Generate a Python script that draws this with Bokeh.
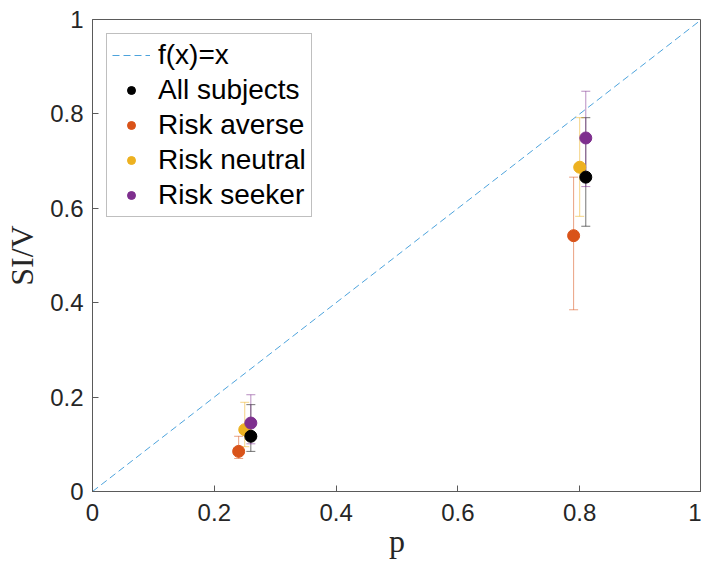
import math
from bokeh.plotting import figure
from bokeh.models import (Range1d, FixedTicker, Whisker, TeeHead, ColumnDataSource,
                          Legend, LegendItem)
from bokeh.embed import file_html
from bokeh.resources import INLINE

# ---- data ----
groups = ["All subjects", "Risk averse", "Risk neutral", "Risk seeker"]
colors = ["#000000", "#D95319", "#EDB120", "#7E2F8E"]

p_all = [0.26, 0.81]
si_all = [0.117, 0.666]
lo_all = [0.085, 0.562]
hi_all = [0.184, 0.792]

p_averse = [0.24, 0.79]
si_averse = [0.085, 0.542]
lo_averse = [0.070, 0.385]
hi_averse = [0.117, 0.666]

p_neutral = [0.25, 0.80]
si_neutral = [0.131, 0.687]
lo_neutral = [0.095, 0.583]
hi_neutral = [0.189, 0.792]

p_seeker = [0.26, 0.81]
si_seeker = [0.145, 0.749]
lo_seeker = [0.101, 0.646]
hi_seeker = [0.205, 0.848]

diag = [0, 1]
tick_vals = [0, 0.2, 0.4, 0.6, 0.8, 1]
tick_labels = ["0", "0.2", "0.4", "0.6", "0.8", "1"]

series = [
    (p_all, si_all, lo_all, hi_all),
    (p_averse, si_averse, lo_averse, hi_averse),
    (p_neutral, si_neutral, lo_neutral, hi_neutral),
    (p_seeker, si_seeker, lo_seeker, hi_seeker),
]

AX = "#5a5a5a"

p = figure(width=701, height=562, x_range=Range1d(0, 1), y_range=Range1d(0, 1),
           output_backend="svg", toolbar_location=None,
           min_border_left=92, min_border_right=0, min_border_top=19, min_border_bottom=71)
p.grid.visible = False
p.outline_line_color = AX
p.outline_line_width = 1
p.background_fill_color = "white"
p.border_fill_color = "white"

overrides = {v: l for v, l in zip(tick_vals, tick_labels)}
for ax in (p.xaxis[0], p.yaxis[0]):
    ax.ticker = FixedTicker(ticks=tick_vals)
    ax.major_label_overrides = overrides
    ax.minor_tick_line_color = None
    ax.major_tick_in = 6
    ax.major_tick_out = 0
    ax.axis_line_color = AX
    ax.major_tick_line_color = AX
    ax.major_label_text_font = "Liberation Sans"
    ax.major_label_text_font_size = "24px"
    ax.major_label_text_color = "#262626"
    ax.axis_label_text_font = "Liberation Serif"
    ax.axis_label_text_font_size = "32px"
    ax.axis_label_text_font_style = "normal"
    ax.axis_label_text_color = "#262626"

p.xaxis[0].axis_label = "p"
p.yaxis[0].axis_label = "SI/V"
p.xaxis[0].major_label_standoff = 12
p.xaxis[0].axis_label_standoff = -1
p.yaxis[0].major_label_standoff = 9
p.yaxis[0].axis_label_standoff = 7

# identity line
r_diag = p.line(diag, diag, line_color="#4DA3DC", line_width=1, line_dash="7 4")

# error bars
for (xs, ys, lo, hi), c in zip(series, colors):
    src = ColumnDataSource(dict(x=xs, lower=lo, upper=hi))
    w = Whisker(source=src, base="x", lower="lower", upper="upper", dimension="height",
                line_color=c, line_alpha=0.55, line_width=1,
                lower_head=TeeHead(size=9, line_color=c, line_alpha=0.55, line_width=1),
                upper_head=TeeHead(size=9, line_color=c, line_alpha=0.55, line_width=1))
    p.add_layout(w)

# markers (draw order: neutral, averse, all, seeker)
marker_r = {}
bar_r = {}
for i in [2, 1, 0, 3]:
    xs, ys, lo, hi = series[i]
    c = colors[i]
    src = ColumnDataSource(dict(x=xs, y=ys))
    # size-0 rotated dash: draws nothing on the plot, a vertical stroke in the legend
    bar_r[i] = p.scatter("x", "y", source=src, marker="dash", size=0, angle=math.pi / 2,
                         line_color=c, line_alpha=0.55, line_width=1)
    marker_r[i] = p.scatter("x", "y", source=src, marker="circle", size=12,
                            fill_color=c, line_color=c)

items = [LegendItem(label="f(x)=x", renderers=[r_diag])]
for i in range(4):
    items.append(LegendItem(label=groups[i], renderers=[bar_r[i], marker_r[i]]))

legend = Legend(items=items, location="top_left", margin=14, padding=5, spacing=3,
                glyph_width=38, glyph_height=20, label_standoff=8,
                label_text_font="Liberation Sans", label_text_font_size="28px",
                label_text_color="#000000",
                border_line_color="#7f7f7f", border_line_width=1,
                background_fill_color="white", background_fill_alpha=1)
p.add_layout(legend)

open("out.html", "w").write(file_html(p, INLINE))
